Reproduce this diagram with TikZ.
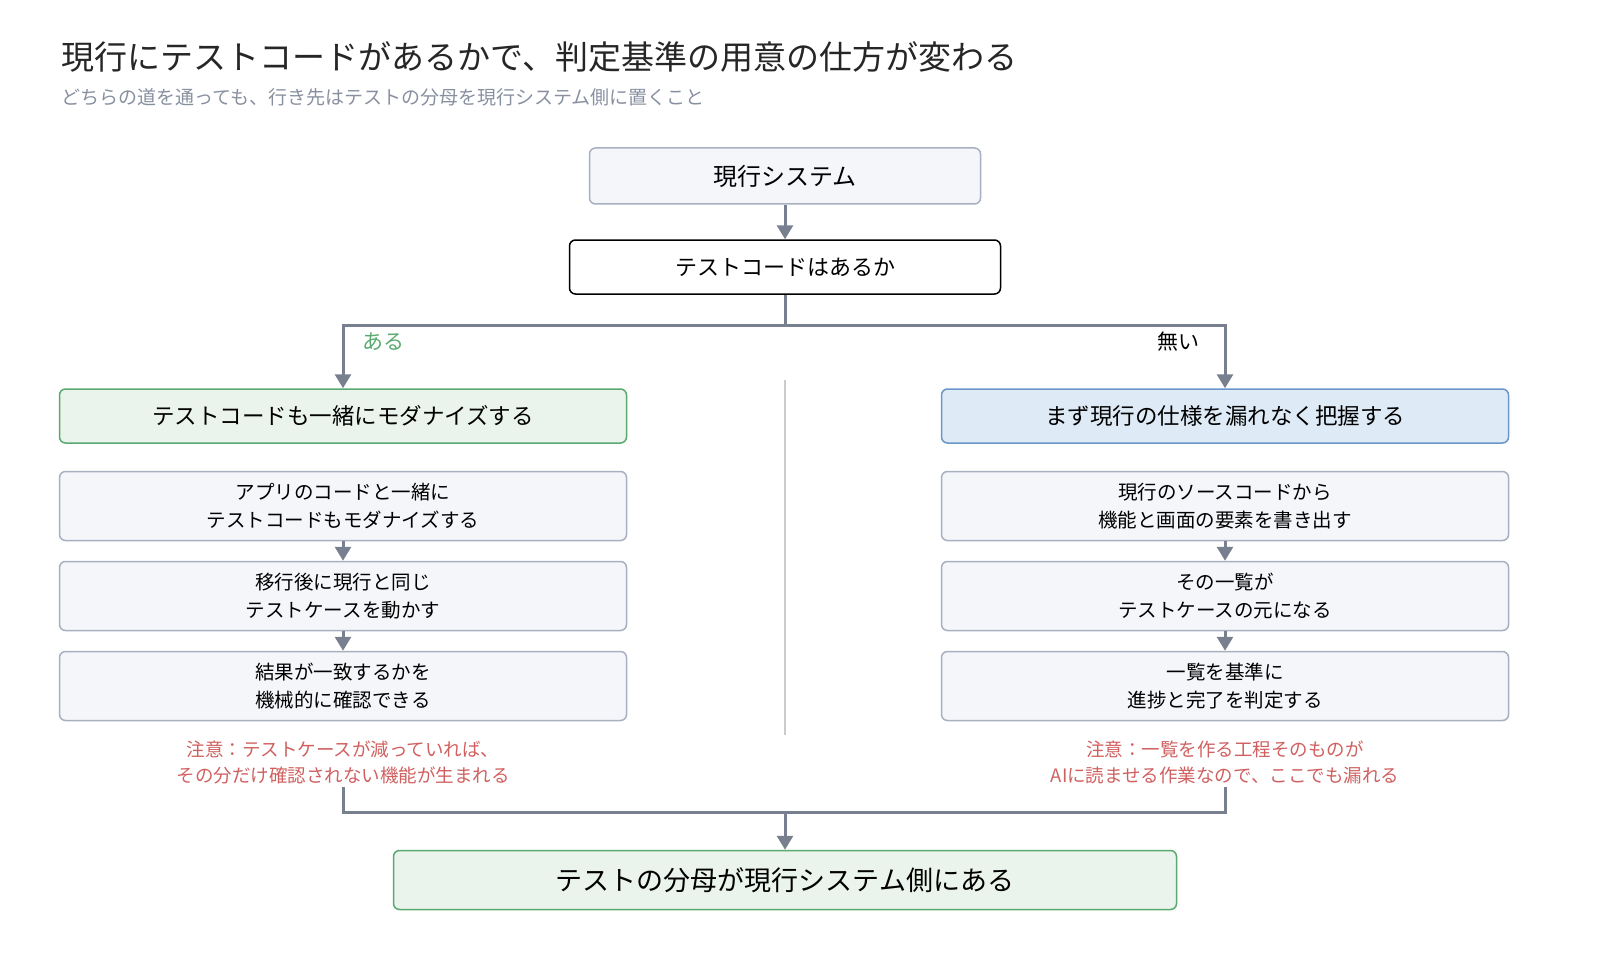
\documentclass[tikz,border=0pt]{standalone}
\usepackage{fontspec}
\setmainfont{Noto Sans CJK JP}
\usetikzlibrary{arrows.meta, positioning}
\definecolor{linegray}{HTML}{788090}
\definecolor{boxfill}{HTML}{F4F6FA}
\definecolor{boxline}{HTML}{A8B0C0}
\definecolor{okfill}{HTML}{EAF4EC}
\definecolor{okline}{HTML}{5AAA70}
\definecolor{nofill}{HTML}{DEEAF6}
\definecolor{noline}{HTML}{6A96C8}
\definecolor{warn}{HTML}{D06060}
\definecolor{subgray}{HTML}{8890A0}
\tikzset{
  box/.style={draw=boxline, fill=boxfill, line width=1.5pt, rounded corners=6pt, align=center, font=\fontsize{19.5}{28}\selectfont},
  stepbox/.style={box, minimum width=567pt, minimum height=69pt},
  conn/.style={draw=linegray, line width=3pt, -{Triangle[length=14pt,width=16pt]}},
  note/.style={text=warn, align=center, font=\fontsize{18.5}{26}\selectfont},
}
\begin{document}
\begin{tikzpicture}[x=1pt, y=-1pt]
    \useasboundingbox (0,0) rectangle (1600,960);
    % Title
    \node[anchor=west, font=\fontsize{33}{38}\selectfont, text=black!85] at (58,57) {現行にテストコードがあるかで、判定基準の用意の仕方が変わる};
    \node[anchor=west, font=\fontsize{19}{22}\selectfont, text=subgray] at (58,97) {どちらの道を通っても、行き先はテストの分母を現行システム側に置くこと};

    % Top
    \node[box, minimum width=391pt, minimum height=56pt, font=\fontsize{24}{28}\selectfont] (sys) at (785,176) {現行システム};
    \node[box, draw=black, fill=white, minimum width=431pt, minimum height=54pt, font=\fontsize{22}{26}\selectfont] (ask) at (785,267) {テストコードはあるか};
    \draw[conn] (sys) -- (ask);

    % Headers
    \node[box, draw=okline, fill=okfill, minimum width=567pt, minimum height=54pt, font=\fontsize{22.5}{26}\selectfont] (yes) at (343,416) {テストコードも一緒にモダナイズする};
    \node[box, draw=noline, fill=nofill, minimum width=567pt, minimum height=54pt, font=\fontsize{22.5}{26}\selectfont] (no) at (1225,416) {まず現行の仕様を漏れなく把握する};
    \coordinate (fork) at (785,325);
    \draw[conn] (ask.south) |- (fork) -| (yes.north);
    \draw[conn] (ask.south) |- (fork) -| (no.north);
    \node[text=okline, font=\fontsize{21}{24}\selectfont] at (383,342) {ある};
    \node[font=\fontsize{21}{24}\selectfont] at (1178,342) {無い};

    % Divider
    \draw[black!20, line width=1.2pt] (785,380) -- (785,735);

    % Left steps
    \node[stepbox] (l1) at (343,506) {アプリのコードと一緒に\\テストコードもモダナイズする};
    \node[stepbox] (l2) at (343,596) {移行後に現行と同じ\\テストケースを動かす};
    \node[stepbox] (l3) at (343,686) {結果が一致するかを\\機械的に確認できる};
    \draw[conn] (l1) -- (l2);
    \draw[conn] (l2) -- (l3);

    % Right steps
    \node[stepbox] (r1) at (1225,506) {現行のソースコードから\\機能と画面の要素を書き出す};
    \node[stepbox] (r2) at (1225,596) {その一覧が\\テストケースの元になる};
    \node[stepbox] (r3) at (1225,686) {一覧を基準に\\進捗と完了を判定する};
    \draw[conn] (r1) -- (r2);
    \draw[conn] (r2) -- (r3);

    % Notes
    \node[note] (lnote) at (343,762) {注意：テストケースが減っていれば、\\その分だけ確認されない機能が生まれる};
    \node[note] (rnote) at (1225,762) {注意：一覧を作る工程そのものが\\AIに読ませる作業なので、ここでも漏れる};

    % Goal
    \node[box, draw=okline, fill=okfill, minimum width=783pt, minimum height=59pt, font=\fontsize{27}{30}\selectfont] (goal) at (785,880) {テストの分母が現行システム側にある};
    \coordinate (join) at (785,812);
    \draw[draw=linegray, line width=3pt] (lnote.south) |- (join) -| (rnote.south);
    \draw[conn] (join) -- (goal.north);
\end{tikzpicture}
\end{document}
